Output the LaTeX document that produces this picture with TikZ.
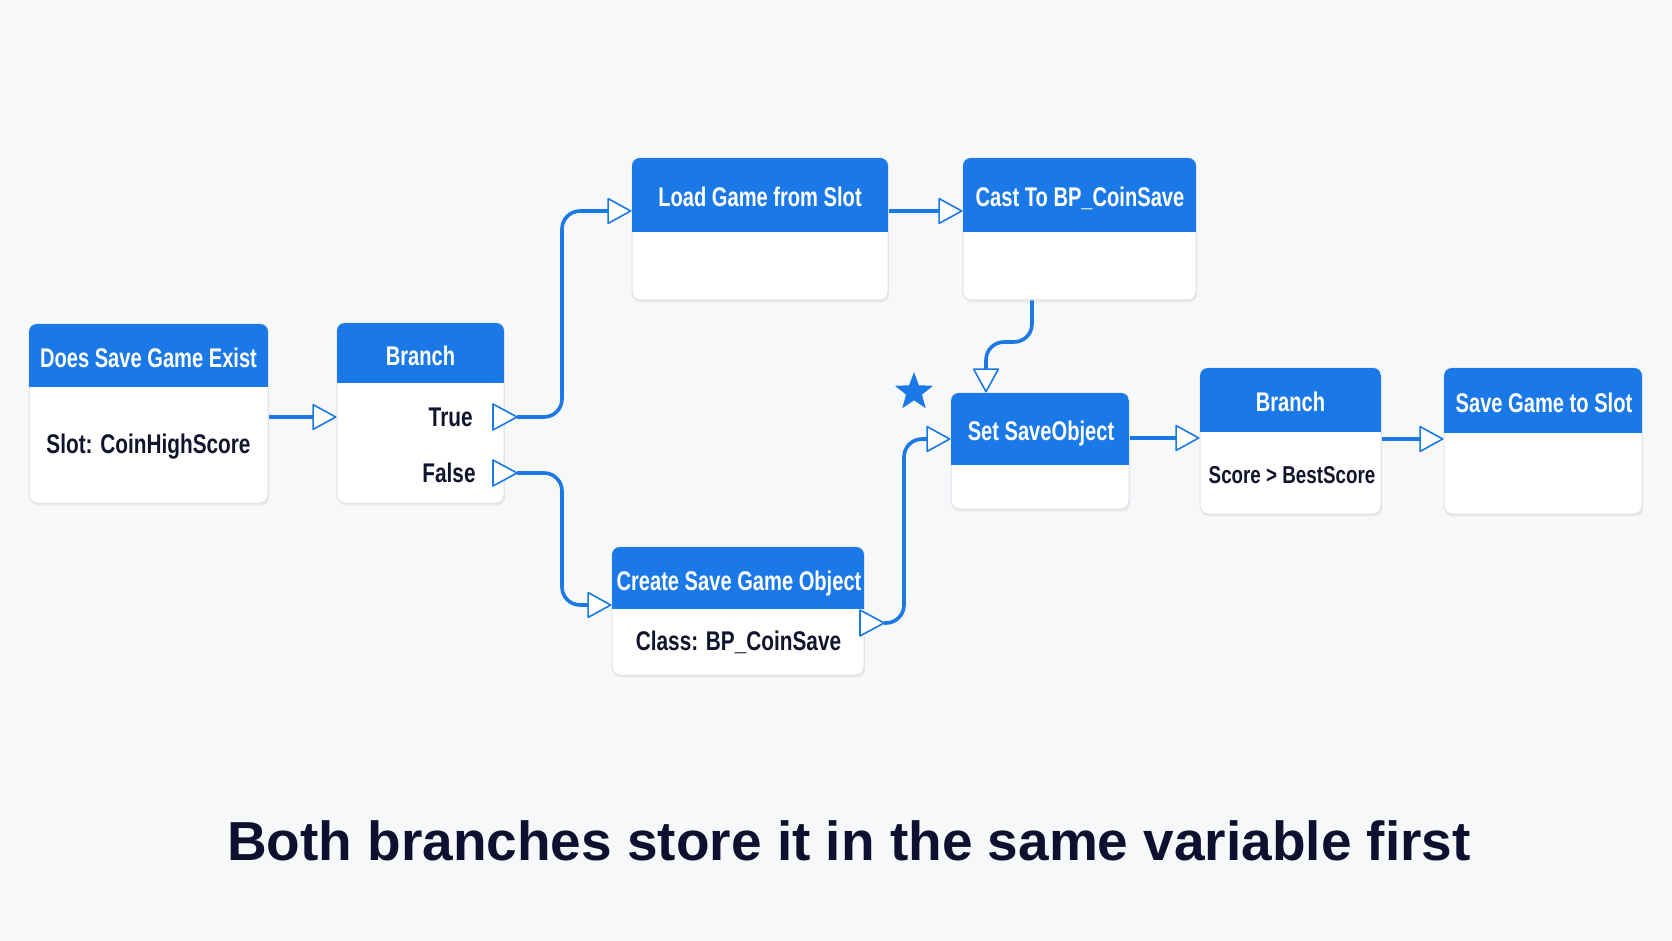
\documentclass[tikz,border=0pt]{standalone}
\usepackage{fontspec}
\setmainfont{Liberation Sans}
\newfontfamily\condf[FakeStretch=0.77]{Liberation Sans}
\newfontfamily\condt[FakeStretch=0.745]{Liberation Sans}
\usetikzlibrary{arrows.meta,shapes.geometric,fit,calc,shadows}
\definecolor{bg}{HTML}{F7F8FA}
\definecolor{hdr}{HTML}{1A79E6}
\definecolor{ink}{HTML}{12142E}
\definecolor{edgec}{HTML}{DDE1E7}
\definecolor{capc}{HTML}{0E1030}
\tikzset{
  block/.style={draw=edgec, line width=0.5pt, fill=white, rounded corners=4pt, inner sep=0pt,
    drop shadow={opacity=0.12, shadow xshift=0.6pt, shadow yshift=-1.2pt}},
  ttl/.style={text=white, font=\condt\bfseries\fontsize{13.5pt}{16pt}\selectfont, anchor=base, inner sep=0pt},
  bdy/.style={text=ink, font=\condf\bfseries\fontsize{13.5pt}{16pt}\selectfont, anchor=base, inner sep=0pt},
  conn/.style={draw=hdr, line width=1.8pt, rounded corners=9pt,
    -{Triangle[length=12.5pt, width=13.5pt, fill=white, line width=0.8pt, round]}},
  pinshape/.style={draw=hdr, fill=white, line width=0.8pt, line join=round},
}
\newcommand\blk[6]{%
  \node[block, fit={(#2,#3) (#4,#5)}] (#1) {};
  \begin{scope}
    \clip[rounded corners=4pt] (#2,#3) rectangle (#4,#5);
    \fill[hdr] (#2,#3) rectangle (#4,#6);
  \end{scope}
}
\newcommand\pinR[3]{%
  \coordinate (#1) at (#2,#3);
  \draw[pinshape] ($(#1)+(-12,-13)$) -- ($(#1)+(12,0)$) -- ($(#1)+(-12,13)$) -- cycle;
  \coordinate (#1-o) at ($(#1)+(12,0)$);
}
\begin{document}
\begin{tikzpicture}[x=0.5pt, y=-0.5pt]
\fill[bg] (0,0) rectangle (1672,941);
\useasboundingbox (0,0) rectangle (1672,941);

% blocks
\blk{n1}{29}{324}{268}{503}{387}
\blk{b1}{337}{323}{504}{503}{383}
\blk{ld}{632}{158}{888}{300}{232}
\blk{ct}{963}{158}{1196}{300}{232}
\blk{st}{951}{393}{1129}{509}{465}
\blk{b2}{1200}{368}{1381}{514}{432}
\blk{sv}{1444}{368}{1642}{514}{433}
\blk{cr}{612}{547}{864}{675}{609}

% titles
\node[ttl] (n1t) at (148.5,367.5) {Does Save Game Exist};
\node[ttl] (b1t) at (420.5,365) {Branch};
\node[ttl] (ldt) at (760,207) {Load Game from Slot};
\node[ttl] (ctt) at (1080,207) {Cast To BP\_CoinSave};
\node[ttl] (stt) at (1041,441) {Set SaveObject};
\node[ttl] (b2t) at (1290.5,412) {Branch};
\node[ttl] (svt) at (1544,412.5) {Save Game to Slot};
\node[ttl] (crt) at (739,590) {Create Save Game Object};

% bodies
\node[bdy] (n1b) at (148.5,453) {Slot: CoinHighScore};
\node[bdy, anchor=base east] (tr) at (473,427) {True};
\node[bdy, anchor=base east] (fl) at (476,482) {False};
\node[bdy] (crb) at (738.5,650) {Class: BP\_CoinSave};
\node[bdy, font=\condf\bfseries\fontsize{12.2pt}{15pt}\selectfont] (b2b) at (1292,483) {Score > BestScore};

% output pins
\pinR{tp}{505}{417}
\pinR{fp}{505}{473}
\pinR{cp}{872}{623}

% connectors
\draw[conn] (n1.east |- tp) -- (b1.west |- tp);
\draw[conn] (tp-o) -- ++(45,0) |- (ld.west |- 0,211);
\draw[conn] (fp-o) -- ++(45,0) |- (cr.west |- 0,605);
\draw[conn] (ld.east |- 0,211) -- (ct.west |- 0,211);
\draw[conn] (ct.south -| 1032,0) |- (986,342) -- (st.north -| 986,0);
\draw[conn] (cp-o) -- ++(20,0) |- (st.west |- 0,439);
\draw[conn] (st.east |- 0,438) -- (b2.west |- 0,438);
\draw[conn] (b2.east |- 0,439) -- (sv.west |- 0,439);

% star
\node[star, star points=5, star point ratio=2.4, fill=hdr, minimum size=20pt, inner sep=0pt] (mark) at (914,392) {};

% caption
\node[font=\bfseries\fontsize{27.5pt}{33pt}\selectfont, text=capc, anchor=base, inner sep=0pt] (caption) at (849,860) {Both branches store it in the same variable first};
\end{tikzpicture}
\end{document}
